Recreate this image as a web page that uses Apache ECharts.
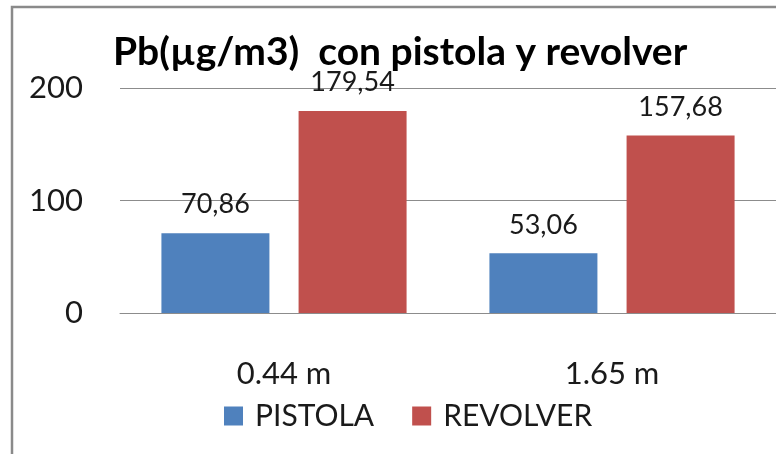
<!DOCTYPE html>
<html>
<head>
<meta charset="utf-8">
<script src="https://cdn.jsdelivr.net/npm/echarts@6/dist/echarts.min.js"></script>
<style>
  html, body { margin: 0; padding: 0; background: #fff; }
  #chart { width: 776px; height: 454px; }
</style>
</head>
<body>
<div id="chart"></div>
<script>
// datos
const categories = ['0.44 m', '1.65 m']
const pistola = [70.86, 53.06]
const revolver = [179.54, 157.68]
const seriesNames = ['PISTOLA', 'REVOLVER']
const titleText = 'Pb(µg/m3)  con pistola y revolver'

const font = 'Lato, "Open Sans", sans-serif'
const myechart = echarts.init(document.getElementById('chart'))

const dataLabel = {
  show: true,
  position: 'top',
  distance: 15,
  color: '#1a1a1a',
  fontFamily: font,
  fontSize: 27,
  // coma decimal como en el original
  formatter: p => p.value.toFixed(2).replace('.', ',')
}

const option = {
  backgroundColor: '#fff',
  animation: false,
  title: {
    text: titleText,
    left: 108,
    top: 28,
    textStyle: {
      fontFamily: font,
      fontWeight: 'bold',
      fontSize: 39,
      color: '#000'
    }
  },
  legend: {
    data: seriesNames,
    left: 219,
    top: 396,
    itemWidth: 19,
    itemHeight: 19,
    itemGap: 38,
    icon: 'rect',
    textStyle: {
      fontFamily: font,
      fontSize: 30,
      color: '#1a1a1a',
      padding: [0, 0, 0, 7]
    }
  },
  grid: {
    left: 120,
    right: 0,
    top: 88,
    bottom: 141,
    containLabel: false
  },
  xAxis: {
    type: 'category',
    data: categories,
    axisTick: { show: false },
    axisLine: { show: true, lineStyle: { color: '#8c8c8c', width: 1 } },
    axisLabel: {
      color: '#1a1a1a',
      fontFamily: font,
      fontSize: 31,
      margin: 45
    }
  },
  yAxis: {
    type: 'value',
    min: 0,
    max: 200,
    interval: 100,
    axisLine: { show: false },
    axisTick: { show: false },
    axisLabel: {
      color: '#1a1a1a',
      fontFamily: font,
      fontSize: 31,
      margin: 37
    },
    splitLine: { lineStyle: { color: '#8c8c8c', width: 1 } }
  },
  series: [
    {
      name: seriesNames[0],
      type: 'bar',
      data: pistola,
      barWidth: 108,
      barGap: '27%',
      itemStyle: { color: '#4f81bd' },
      label: dataLabel
    },
    {
      name: seriesNames[1],
      type: 'bar',
      data: revolver,
      barWidth: 108,
      barGap: '27%',
      itemStyle: { color: '#c0504d' },
      label: dataLabel
    }
  ],
  graphic: [
    {
      // marco del area del grafico
      type: 'rect',
      silent: true,
      shape: { x: 12, y: 7, width: 820, height: 520 },
      style: { fill: 'none', stroke: '#8a8a8a', lineWidth: 2.5 }
    }
  ]
}

myechart.setOption(option)
</script>
</body>
</html>
